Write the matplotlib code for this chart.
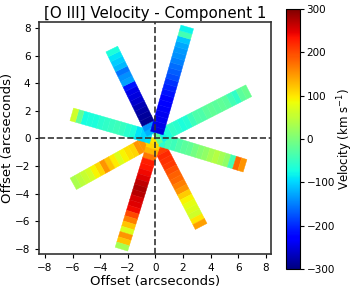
import numpy as np
import matplotlib
matplotlib.use("Agg")
import matplotlib.pyplot as plt
from matplotlib.collections import PolyCollection
from matplotlib.colors import Normalize

# each slit arm: angle from +x (deg), inner radius (arcsec), velocities going outward (km/s)
arm_names = ["SW", "SE", "S", "W", "E_down", "E_up", "NW", "NE"]
arm_angles = [209, -62.5, 253, 164, -17, 27, 116, 74]
arm_starts = [0.4, 0.4, 0.0, 0.3, 0.4, 0.0, 0.4, 0.4]

vel_sw = [100, 150, 150, 110, 105, 90, 70, 95, 120, 150, 110, 90, 65, 55, 45, 35]
vel_se = [180, 205, 220, 215, 210, 195, 185, 180, 165, 150, 115, 90, 75, 70, 60, 100, 145]
vel_s = [100, 110, 130, 170, 225, 230, 240, 250, 265, 275, 270, 255, 250, 240,
         200, 165, 120, 70, 150, 120, 30]
vel_w = [-90, -100, -90, -70, -60, -50, -45, -50, -55, -60, -70, -70, -75, -20, 60]
vel_e_down = [-60, -40, -45, -35, -25, -20, -5, 5, 15, 30, 40, 30, 15, -40, 180, 150]
vel_e_up = [-20, -80, -70, -55, -60, -70, -65, -45, -35, -35, -25, -20, -25, -20, -25,
            -40, -55, -25, -15]
vel_nw = [-120, -140, -290, -285, -280, -270, -260, -250, -245, -215, -130, -140, -155,
          -115, -105, -90, -70]
vel_ne = [-250, -245, -240, -240, -235, -230, -225, -215, -205, -195, -180, -170, -160,
          -150, -140, -135, -125, -110, -40, -80]

arm_vels = [vel_sw, vel_se, vel_s, vel_w, vel_e_down, vel_e_up, vel_nw, vel_ne]

seg_len = 0.4
slit_width = 0.95
vmin, vmax = -300, 300

polys = []
values = []
for ang, r0, vels in zip(arm_angles, arm_starts, arm_vels):
    t = np.deg2rad(ang)
    d = np.array([np.cos(t), np.sin(t)])
    n = np.array([-np.sin(t), np.cos(t)]) * slit_width / 2
    for i, v in enumerate(vels):
        ra = r0 + i * seg_len
        rb = ra + seg_len
        polys.append([ra * d - n, rb * d - n, rb * d + n, ra * d + n])
        values.append(v)

fig = plt.figure(figsize=(3.55, 2.9), dpi=100)
ax = fig.add_axes([0.111, 0.121, 0.653, 0.804])

coll = PolyCollection(polys, array=np.array(values), cmap="jet",
                      norm=Normalize(vmin=vmin, vmax=vmax), edgecolors="face", linewidths=0.3)
ax.add_collection(coll)

ax.axhline(0, color="#333333", linestyle="--", linewidth=1.2, zorder=3)
ax.axvline(0, color="#333333", linestyle="--", linewidth=1.2, zorder=3)

ax.set_xlim(-8.4, 8.4)
ax.set_ylim(-8.4, 8.4)
ax.set_aspect("equal")
ax.set_xticks(np.arange(-8, 9, 2))
ax.set_yticks(np.arange(-8, 9, 2))
ax.tick_params(labelsize=7.5, length=3)
ax.set_xlabel("Offset (arcseconds)", fontsize=9.5, labelpad=1)
ax.set_ylabel("Offset (arcseconds)", fontsize=9.5, labelpad=1)
ax.set_title("[O III] Velocity - Component 1", fontsize=10.8, pad=3)
for s in ax.spines.values():
    s.set_color("#333333")
    s.set_linewidth(1.2)

cax = fig.add_axes([0.806, 0.072, 0.040, 0.898])
cb = fig.colorbar(coll, cax=cax, ticks=np.arange(-300, 301, 100))
cb.ax.tick_params(labelsize=7.5, length=3, pad=1.5)
cb.set_label("Velocity (km s$^{-1}$)", fontsize=8.5)
cb.ax.yaxis.set_label_coords(3.5, 0.5)

fig.savefig("out.png", dpi=100)
